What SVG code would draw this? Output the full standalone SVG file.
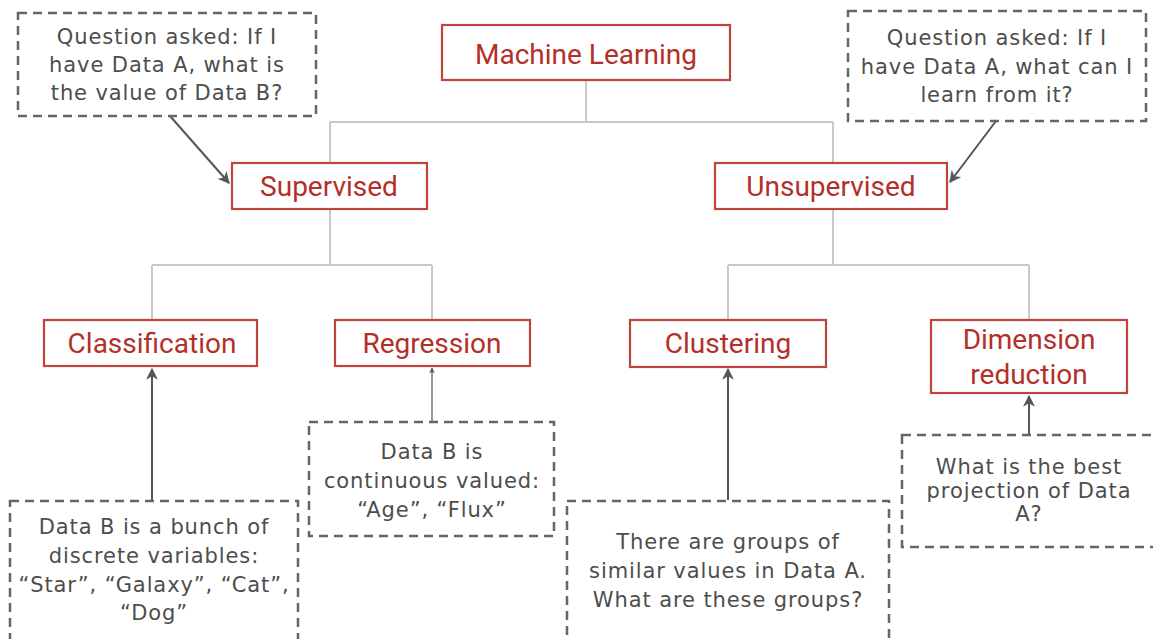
<svg xmlns="http://www.w3.org/2000/svg" width="1153" height="639" viewBox="0 0 1153 639">
<style>
.node rect{fill:#fff;stroke:#c0433c;stroke-width:2.2}
.node text{font-family:Roboto,"Liberation Sans",sans-serif;font-size:28px;fill:#b3302a;text-anchor:middle}
.note rect{fill:#fff;stroke:#666;stroke-width:2.5;stroke-dasharray:9 6}
.note text{font-family:"DejaVu Sans",sans-serif;font-size:21px;letter-spacing:0.9px;fill:#4d4d4d;text-anchor:middle}
.tree{fill:none;stroke:#c8c8c8;stroke-width:2}
.arr{fill:none;stroke:#555;stroke-width:2;marker-end:url(#ah)}
.arrthin{fill:none;stroke:#555;stroke-width:1.2;marker-end:url(#ahs)}
</style>
<defs>
<marker id="ah" viewBox="0 0 10 10" refX="9" refY="5" markerWidth="6" markerHeight="6" orient="auto" markerUnits="strokeWidth">
<path d="M0,0 L10,5 L0,10 L3,5 z" fill="#555"/>
</marker>
<marker id="ahs" viewBox="0 0 10 10" refX="9" refY="5" markerWidth="5" markerHeight="5" orient="auto" markerUnits="strokeWidth">
<path d="M0,0 L10,5 L0,10 L3,5 z" fill="#555"/>
</marker>
</defs>
<rect width="1153" height="639" fill="#fff"/>
<g id="connectors">
<path class="tree" d="M586,80 V122 M330,122 H833 M330,122 V163 M833,122 V163"/>
<path class="tree" d="M330,209 V265 M152,265 H432 M152,265 V320 M432,265 V320"/>
<path class="tree" d="M833,209 V265 M728,265 H1029 M728,265 V320 M1029,265 V320"/>
<path class="arr" d="M170,116 L229,183"/>
<path class="arr" d="M996,121 L950,182"/>
<path class="arr" d="M152,500 V369"/>
<path class="arrthin" d="M432,422 V368"/>
<path class="arr" d="M728,500 V369"/>
<path class="arr" d="M1029,435 V396"/>
</g>
<g id="note-sup" class="note">
<rect x="18" y="13" width="298" height="103"/>
<text x="167" y="44">Question asked: If I</text>
<text x="167" y="72">have Data A, what is</text>
<text x="167" y="100">the value of Data B?</text>
</g>
<g id="note-unsup" class="note">
<rect x="848" y="11" width="298" height="110"/>
<text x="997" y="45">Question asked: If I</text>
<text x="997" y="74">have Data A, what can I</text>
<text x="997" y="102">learn from it?</text>
</g>
<g id="node-ml" class="node">
<rect x="442" y="25" width="288" height="55"/>
<text x="586" y="64">Machine Learning</text>
</g>
<g id="node-supervised" class="node">
<rect x="232" y="163" width="195" height="46"/>
<text x="329" y="196">Supervised</text>
</g>
<g id="node-unsupervised" class="node">
<rect x="715" y="163" width="232" height="46"/>
<text x="831" y="196">Unsupervised</text>
</g>
<g id="node-classification" class="node">
<rect x="44" y="320" width="213" height="46"/>
<text x="152" y="353">Classification</text>
</g>
<g id="node-regression" class="node">
<rect x="335" y="320" width="195" height="46"/>
<text x="432" y="353">Regression</text>
</g>
<g id="node-clustering" class="node">
<rect x="630" y="320" width="196" height="47"/>
<text x="728" y="353">Clustering</text>
</g>
<g id="node-dimred" class="node">
<rect x="931" y="320" width="196" height="73"/>
<text x="1029" y="349">Dimension</text>
<text x="1029" y="384">reduction</text>
</g>
<g id="note-class" class="note">
<rect x="10" y="501" width="288" height="150"/>
<text x="154" y="534">Data B is a bunch of</text>
<text x="154" y="563">discrete variables:</text>
<text x="154" y="592">“Star”, “Galaxy”, “Cat”,</text>
<text x="154" y="620">“Dog”</text>
</g>
<g id="note-reg" class="note">
<rect x="309" y="422" width="245" height="114"/>
<text x="432" y="459">Data B is</text>
<text x="432" y="488">continuous valued:</text>
<text x="432" y="517">“Age”, “Flux”</text>
</g>
<g id="note-clust" class="note">
<rect x="567" y="501" width="322" height="150"/>
<text x="728" y="549">There are groups of</text>
<text x="728" y="578">similar values in Data A.</text>
<text x="728" y="607">What are these groups?</text>
</g>
<g id="note-dim" class="note">
<rect x="902" y="435" width="260" height="112"/>
<text x="1029" y="474">What is the best</text>
<text x="1029" y="498">projection of Data</text>
<text x="1029" y="521">A?</text>
</g>
</svg>
